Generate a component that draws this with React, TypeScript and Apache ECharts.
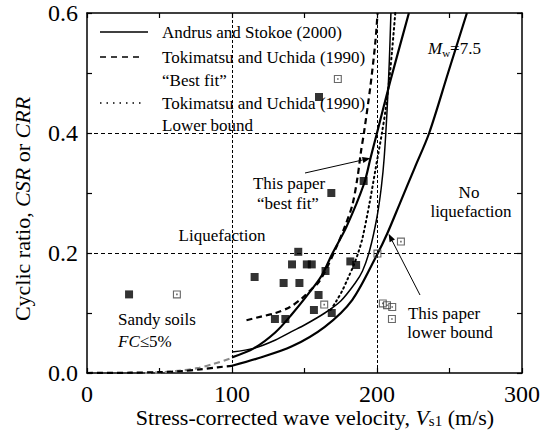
import React, { useEffect, useRef } from "react";
import * as echarts from "echarts";

// Case-history points: Vs1 (m/s) and cyclic stress ratio
const liqVs1 = [29, 160, 190.8, 168.5, 145.7, 141.4, 151.6, 155, 164.5, 115.6, 135.6, 146.5, 159.7, 156.5, 168.8, 129.6, 136.8, 181.6, 185.6];
const liqCsr = [0.131, 0.46, 0.32, 0.3, 0.202, 0.181, 0.181, 0.181, 0.17, 0.16, 0.15, 0.15, 0.13, 0.105, 0.1, 0.09, 0.09, 0.186, 0.18];
const noLiqVs1 = [62, 173, 163.6, 200.3, 216.5, 204, 206.9, 210.5, 210.3];
const noLiqCsr = [0.131, 0.49, 0.114, 0.199, 0.219, 0.116, 0.113, 0.11, 0.09];

// Andrus and Stokoe (2000)
const andrusVs1 = [100, 115, 130, 141, 150, 164, 175, 185, 190, 195, 200, 203, 205, 207, 208.5, 209.6];
const andrusCrr = [0.035, 0.041, 0.055, 0.069, 0.08, 0.1, 0.12, 0.15, 0.17, 0.205, 0.26, 0.31, 0.36, 0.44, 0.52, 0.6];

// Tokimatsu and Uchida (1990), best fit
const tuBestVs1 = [110, 120, 130, 140, 148, 155, 160, 166, 172, 178, 183, 186.5, 189, 191, 195.4, 198.8, 200.4];
const tuBestCrr = [0.088, 0.094, 0.1, 0.11, 0.124, 0.14, 0.152, 0.178, 0.21, 0.245, 0.28, 0.325, 0.37, 0.4, 0.477, 0.55, 0.6];

// Tokimatsu and Uchida (1990), lower bound
const tuLowVs1 = [168, 172, 176, 180, 184, 187, 190, 195, 199, 203.4, 206, 208.5, 210.5, 212.6];
const tuLowCrr = [0.105, 0.12, 0.137, 0.158, 0.18, 0.2, 0.225, 0.285, 0.34, 0.4, 0.44, 0.49, 0.54, 0.6];

// This paper, best fit (solid) and its extension below 100 m/s (grey dashed)
const bestVs1 = [100, 115, 130, 141, 153, 162, 169, 179, 191, 195.5, 200, 209, 222];
const bestCrr = [0.026, 0.041, 0.068, 0.097, 0.133, 0.163, 0.198, 0.244, 0.315, 0.358, 0.4, 0.485, 0.6];
const bestExtVs1 = [40, 50, 65, 76, 87, 100];
const bestExtCrr = [0, 0.001, 0.004, 0.008, 0.015, 0.025];

// This paper, lower bound (solid) and its extension below 100 m/s (black dashed)
const lowVs1 = [100, 118, 141, 164, 183, 200, 207, 216, 226, 236, 249, 262];
const lowCrr = [0.012, 0.0245, 0.044, 0.077, 0.122, 0.197, 0.232, 0.284, 0.342, 0.4, 0.5, 0.6];
const lowExtVs1 = [0, 30, 50, 65, 78, 90, 100];
const lowExtCrr = [0, 0.0005, 0.0015, 0.003, 0.006, 0.0095, 0.012];

// Reference lines
const refVs1 = [100, 200];
const refCsr = [0.2, 0.4];

const FONT = "Liberation Serif";

export default function App() {
  const ref = useRef<HTMLDivElement>(null);

  useEffect(() => {
    const chart = echarts.init(ref.current!, null, { renderer: "svg" });

    const pairs = (xs: number[], ys: number[]) => xs.map((x, i) => [x, ys[i]]);
    const curve = (name: string, xs: number[], ys: number[], lineStyle: any, z = 3) => ({
      type: "line",
      name,
      data: pairs(xs, ys),
      symbol: "none",
      showSymbol: false,
      smooth: 0.3,
      clip: true,
      silent: true,
      z,
      lineStyle,
    });

    const axisLine = { show: true, onZero: false, lineStyle: { color: "#000", width: 1.5 } };
    const axisTick = { show: true, inside: true, length: 5, lineStyle: { color: "#000", width: 1.2 } };
    const labelStyle = { fontFamily: FONT, fontSize: 24, lineHeight: 20, color: "#000", margin: 9 };

    chart.setOption({
      animation: false,
      backgroundColor: "#fff",
      textStyle: { fontFamily: FONT },
      grid: { left: 87, right: 23, top: 13, bottom: 68 },
      xAxis: [
        {
          type: "value", min: 0, max: 300, interval: 50, position: "bottom",
          axisLine, axisTick, splitLine: { show: false },
          axisLabel: { ...labelStyle, margin: 11, formatter: (v: number) => (v % 100 === 0 ? String(v) : "") },
        },
        {
          type: "value", min: 0, max: 300, interval: 50, position: "top",
          axisLine, axisTick, splitLine: { show: false }, axisLabel: { show: false },
        },
      ],
      yAxis: [
        {
          type: "value", min: 0, max: 0.6, interval: 0.1, position: "left",
          axisLine, axisTick, splitLine: { show: false },
          axisLabel: { ...labelStyle, formatter: (v: number) => (Math.round(v * 10) % 2 === 0 ? v.toFixed(1) : "") },
        },
        {
          type: "value", min: 0, max: 0.6, interval: 0.1, position: "right",
          axisLine, axisTick, splitLine: { show: false }, axisLabel: { show: false },
        },
      ],
      series: [
        {
          type: "line",
          data: [],
          silent: true,
          markLine: {
            silent: true,
            symbol: "none",
            label: { show: false },
            data: [
              ...refVs1.map((v) => ({ xAxis: v, lineStyle: { color: "#000", width: 1, type: [3, 2] } })),
              ...refCsr.map((v) => ({ yAxis: v, lineStyle: { color: "#000", width: 1, type: [4, 3] } })),
            ],
          },
        },
        curve("bestExt", bestExtVs1, bestExtCrr, { color: "#8a8a8a", width: 2.2, type: [6, 4] }),
        curve("lowExt", lowExtVs1, lowExtCrr, { color: "#000", width: 2.2, type: [6, 4] }),
        curve("Andrus and Stokoe (2000)", andrusVs1, andrusCrr, { color: "#000", width: 1.5 }),
        curve("Tokimatsu best fit", tuBestVs1, tuBestCrr, { color: "#000", width: 2.2, type: [6, 4] }),
        curve("Tokimatsu lower bound", tuLowVs1, tuLowCrr, { color: "#000", width: 2, type: [1.5, 3.5], cap: "round" }),
        curve("This paper best fit", bestVs1, bestCrr, { color: "#000", width: 2.2 }),
        curve("This paper lower bound", lowVs1, lowCrr, { color: "#000", width: 2.2 }),
        {
          type: "scatter", name: "Liquefaction", data: pairs(liqVs1, liqCsr),
          symbol: "rect", symbolSize: 8, itemStyle: { color: "#000" }, z: 5, silent: true,
        },
        {
          type: "scatter", name: "No liquefaction", data: pairs(noLiqVs1, noLiqCsr),
          symbol: "path://M0,0H10V10H0Z M1.4,1.4V8.6H8.6V1.4Z M4,4H6V6H4Z",
          symbolSize: 8, itemStyle: { color: "#444" }, z: 5, silent: true,
        },
      ],
    });

    const px = (x: number, y: number) => chart.convertToPixel({ gridIndex: 0 }, [x, y]) as number[];

    const arrow = (from: number[], to: number[]) => {
      const ang = Math.atan2(to[1] - from[1], to[0] - from[0]);
      const L = 8, W = 3;
      const bx = to[0] - L * Math.cos(ang), by = to[1] - L * Math.sin(ang);
      return [
        { type: "line", shape: { x1: from[0], y1: from[1], x2: bx, y2: by }, style: { stroke: "#000", lineWidth: 1 } },
        {
          type: "polygon",
          shape: {
            points: [
              to,
              [bx + W * Math.sin(ang), by - W * Math.cos(ang)],
              [bx - W * Math.sin(ang), by + W * Math.cos(ang)],
            ],
          },
          style: { fill: "#000" },
        },
      ];
    };

    const it = { fontFamily: FONT, fontStyle: "italic", fill: "#000" };
    const rm = { fontFamily: FONT, fill: "#000" };

    // plain annotation text, set through a rich token so the serif face is applied
    const txt = (x: number, y: number, text: string, align = "left") => ({
      type: "text", x, y,
      style: {
        text: `{r|${text}}`, align, verticalAlign: "middle",
        rich: { r: { ...rm, fontSize: 17 } },
      },
    });

    const bestTip = px(195.5, 0.358);
    const lowTip = px(208, 0.232);

    chart.setOption({
      graphic: [
        // legend
        { type: "line", shape: { x1: 100, y1: 32, x2: 148, y2: 32 }, style: { stroke: "#000", lineWidth: 1.5 } },
        { type: "line", shape: { x1: 100, y1: 57, x2: 144, y2: 57 }, style: { stroke: "#000", lineWidth: 1.5, lineDash: [6, 5] } },
        { type: "line", shape: { x1: 100, y1: 103, x2: 144, y2: 103 }, style: { stroke: "#000", lineWidth: 1.5, lineDash: [1.5, 5] } },
        txt(162, 32, "Andrus and Stokoe (2000)"),
        txt(162, 57, "Tokimatsu and Uchida (1990)"),
        txt(162, 80, "\u201cBest fit\u201d"),
        txt(162, 103, "Tokimatsu and Uchida (1990)"),
        txt(162, 125, "Lower bound"),
        // regions
        txt(222, 235, "Liquefaction", "center"),
        txt(469, 192, "No", "center"),
        txt(471, 211, "liquefaction", "center"),
        txt(118, 319, "Sandy soils"),
        {
          type: "text", x: 118, y: 341,
          style: {
            text: "{i|FC}{r|\u22645%}", verticalAlign: "middle", align: "left",
            rich: { i: { ...it, fontSize: 17 }, r: { ...rm, fontSize: 17 } },
          },
        },
        // curve annotations
        txt(289, 183, "This paper", "center"),
        txt(288, 203, "\u201cbest fit\u201d", "center"),
        ...arrow([305, 173], bestTip),
        txt(444, 313, "This paper", "center"),
        txt(450, 332, "lower bound", "center"),
        ...arrow([420, 295], lowTip),
        {
          type: "text", x: 428, y: 48,
          style: {
            text: "{i|M}{s|w}{r|=7.5}", verticalAlign: "middle", align: "left",
            rich: {
              i: { ...it, fontSize: 17, lineHeight: 20 },
              s: { ...rm, fontSize: 11, lineHeight: 11, verticalAlign: "bottom" },
              r: { ...rm, fontSize: 17, lineHeight: 20 },
            },
          },
        },
        // axis titles
        {
          type: "text", x: 315, y: 417,
          style: {
            text: "{r|Stress-corrected wave velocity, }{i|V}{s|s1}{r| (m/s)}", align: "center", verticalAlign: "middle",
            rich: {
              r: { ...rm, fontSize: 22, lineHeight: 22 },
              i: { ...it, fontSize: 22, lineHeight: 22 },
              s: { ...rm, fontSize: 15, lineHeight: 12, verticalAlign: "bottom" },
            },
          },
        },
        {
          type: "text", x: 22, y: 209, rotation: Math.PI / 2,
          style: {
            text: "{r|Cyclic ratio, }{i|CSR}{r| or }{i|CRR}", align: "center", verticalAlign: "middle",
            rich: {
              r: { ...rm, fontSize: 22, lineHeight: 26 },
              i: { ...it, fontSize: 22, lineHeight: 26 },
            },
          },
        },
      ],
    });

    return () => chart.dispose();
  }, []);

  return <div ref={ref} style={{ position: "fixed", left: 0, top: 0, width: 545, height: 441 }} />;
}
